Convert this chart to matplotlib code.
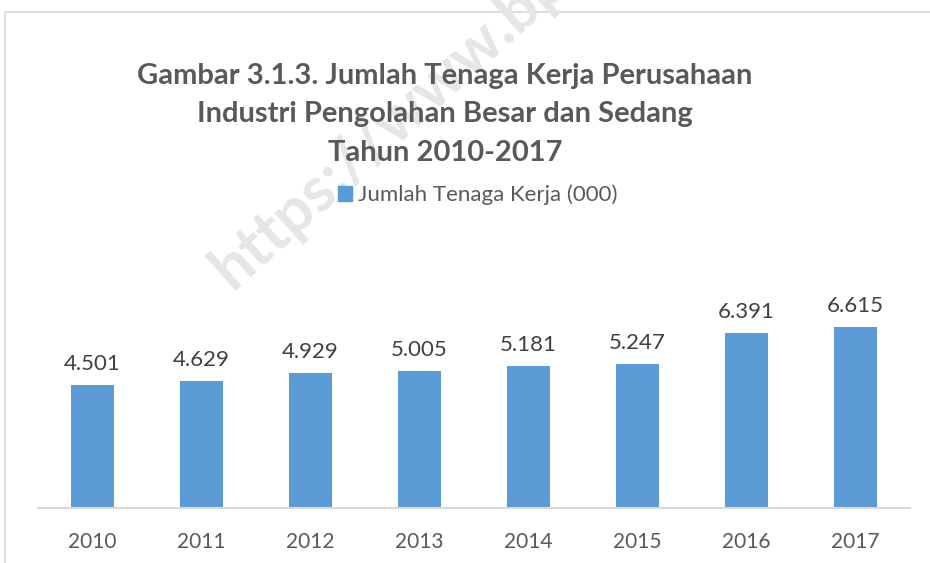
import matplotlib
matplotlib.use("Agg")
import matplotlib.pyplot as plt
from matplotlib.patches import Patch, Rectangle

plt.rcParams['font.family'] = ['Lato', 'DejaVu Sans']

years = ['2010', '2011', '2012', '2013', '2014', '2015', '2016', '2017']
tenaga_kerja = [4501, 4629, 4929, 5005, 5181, 5247, 6391, 6615]
value_labels = ['4.501', '4.629', '4.929', '5.005', '5.181', '5.247', '6.391', '6.615']
title_lines = ['Gambar 3.1.3. Jumlah Tenaga Kerja Perusahaan',
               'Industri Pengolahan Besar dan Sedang',
               'Tahun 2010-2017']
legend_label = 'Jumlah Tenaga Kerja (000)'

W, H = 930, 563
fig = plt.figure(figsize=(9.3, 5.63), dpi=100)
fig.patch.set_facecolor('white')

# chart area border (only top/left visible in the crop)
fig.patches.append(Rectangle((5 / W, -0.5), 2.0, 1 - 12 / H + 0.5, transform=fig.transFigure,
                             fill=False, edgecolor='#D9D9D9', lw=1.2, zorder=0))

# watermark
fig.text(232 / W, 1 - 290 / H, 'https://www.bps.go.id', rotation=42, fontsize=45,
         fontweight='bold', color='#E6E6E6', ha='left', va='baseline',
         rotation_mode='anchor', zorder=0)

ax = fig.add_axes([38 / W, 1 - 508 / H, (910 - 38) / W, 219 / H])
ax.patch.set_alpha(0)
x = range(len(years))
bars = ax.bar(x, tenaga_kerja, width=0.4, color='#5B9BD5', zorder=2)
ax.bar_label(bars, labels=value_labels, padding=8, fontsize=16, color='#404040')

ax.set_xlim(-0.5, len(years) - 0.5)
ax.set_ylim(0, 8000)
ax.set_xticks(list(x))
ax.set_xticklabels(years, fontsize=15, color='#595959')
ax.tick_params(axis='x', length=0, pad=17)
ax.set_yticks([])
for s in ['top', 'right', 'left']:
    ax.spines[s].set_visible(False)
ax.spines['bottom'].set_color('#D9D9D9')
ax.spines['bottom'].set_linewidth(1.5)

for i, line in enumerate(title_lines):
    fig.text(445 / W, 1 - (76 + 38.5 * i) / H, line, ha='center', va='center',
             fontsize=21, fontweight='bold', color='#595959')

fig.legend(handles=[Patch(color='#5B9BD5', label=legend_label)], loc='center',
           bbox_to_anchor=(478 / W, 1 - 195 / H), frameon=False, fontsize=16,
           handlelength=0.6, handleheight=0.6, handletextpad=0.3, labelcolor='#595959')

fig.savefig('out.png', dpi=100)
